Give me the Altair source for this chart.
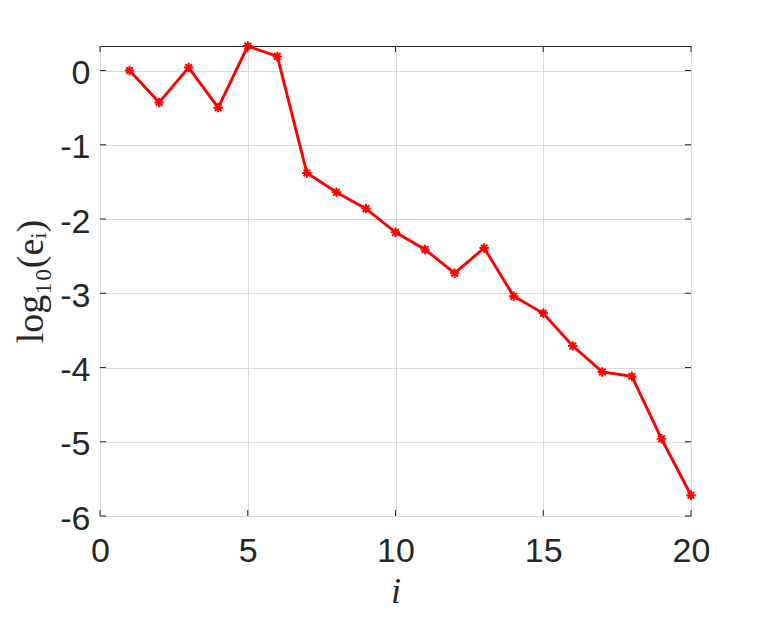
import altair as alt
import pandas as pd

# ---- data ----
iters = list(range(1, 21))
log_err = [0.00, -0.43, 0.04, -0.50, 0.33, 0.19, -1.38, -1.64, -1.86, -2.18,
           -2.41, -2.73, -2.39, -3.04, -3.27, -3.71, -4.06, -4.12, -4.96, -5.72]
x_ticks = [0, 5, 10, 15, 20]
y_ticks = [-6, -5, -4, -3, -2, -1, 0]

W, H = 591, 470
TICK = 6
INK = "#262626"
RED = "#ff0000"
ASTERISK = "M-1,0L1,0M0,-1L0,1M-0.7,-0.7L0.7,0.7M-0.7,0.7L0.7,-0.7"

df = pd.DataFrame({"i": iters, "e": log_err})
dx = pd.DataFrame({"i": x_ticks})
dy = pd.DataFrame({"e": y_ticks})

xscale = alt.Scale(domain=[0, 20], nice=False, zero=False)
yscale = alt.Scale(domain=[-6, 0.33], nice=False, zero=False)

xaxis = alt.Axis(
    values=x_ticks, grid=True, gridColor="#dadada", gridWidth=1,
    domain=False, ticks=False,
    labelFont="Liberation Sans", labelFontSize=34, labelColor=INK,
    labelPadding=18, labelFlush=False, labelOverlap=False,
    labelExpr="'' + datum.value",
    title="i", titleFont="Liberation Serif", titleFontStyle="italic",
    titleFontWeight="normal", titleFontSize=36, titleColor=INK,
    titleBaseline="alphabetic", titleAlign="center", titleY=86, titleX=W / 2,
)
yaxis = alt.Axis(
    values=y_ticks, grid=True, gridColor="#dadada", gridWidth=1,
    domain=False, ticks=False,
    labelFont="Liberation Sans", labelFontSize=34, labelColor=INK,
    labelPadding=10, labelFlush=False, labelOverlap=False, labelOffset=3,
    labelExpr="'' + datum.value",
    title="log₁₀(eᵢ)", titleFont="Liberation Serif",
    titleFontWeight="normal", titleFontSize=38, titleColor=INK,
    titleAngle=270, titleAlign="center", titleBaseline="alphabetic",
    titleX=-58, titleY=H / 2,
)

X = alt.X("i:Q", scale=xscale, axis=xaxis)
Y = alt.Y("e:Q", scale=yscale, axis=yaxis)

line = alt.Chart(df).mark_line(color=RED, strokeWidth=2.9).encode(x=X, y=Y)
pts = alt.Chart(df).mark_point(
    shape=ASTERISK, filled=False, stroke=RED, strokeWidth=2, size=90, opacity=1
).encode(x=X, y=Y)

tick_style = dict(color=INK, strokeWidth=1)
bottom_ticks = alt.Chart(dx).mark_rule(**tick_style).encode(
    x=X, y=alt.value(H), y2=alt.value(H - TICK),
)
top_ticks = alt.Chart(dx).mark_rule(**tick_style).encode(
    x=X, y=alt.value(0), y2=alt.value(TICK),
)
left_ticks = alt.Chart(dy).mark_rule(**tick_style).encode(
    y=Y, x=alt.value(0), x2=alt.value(TICK),
)
right_ticks = alt.Chart(dy).mark_rule(**tick_style).encode(
    y=Y, x=alt.value(W), x2=alt.value(W - TICK),
)

chart = alt.layer(
    line, pts, bottom_ticks, top_ticks, left_ticks, right_ticks
).properties(
    width=W, height=H,
    autosize=alt.AutoSizeParams(type="none"),
    padding={"left": 92, "top": 38, "right": 50, "bottom": 96},
    background="white",
).configure_view(stroke=INK, strokeWidth=1)

chart.save("out.html", embed_options={"renderer": "svg", "actions": False})
